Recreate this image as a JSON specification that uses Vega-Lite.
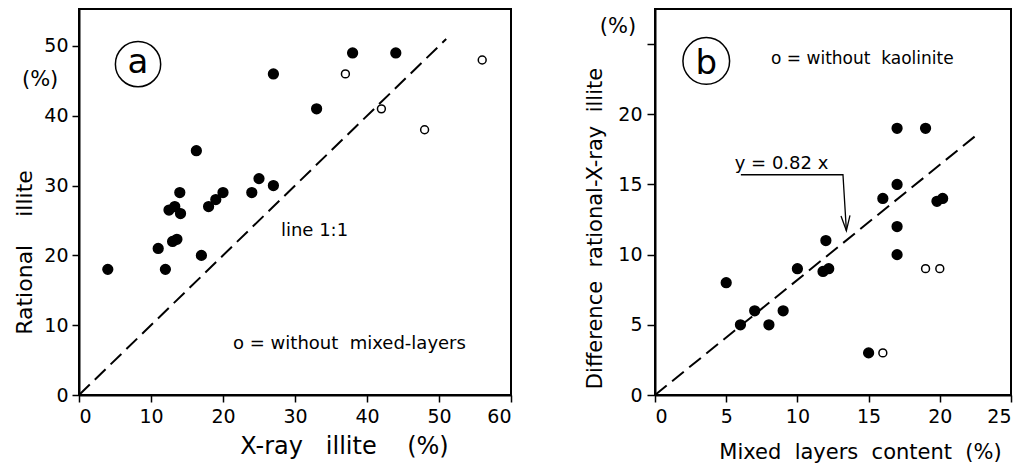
{
  "$schema": "https://vega.github.io/schema/vega-lite/v6.json",
  "padding": {"left": 12, "top": 8, "right": 5, "bottom": 5},
  "autosize": {"type": "pad"},
  "bounds": "flush",
  "spacing": 144,
  "background": "white",
  "config": {
    "font": "DejaVu Sans",
    "view": {"stroke": "black", "strokeWidth": 2},
    "axis": {
      "grid": false,
      "domainColor": "black",
      "domainWidth": 2,
      "tickColor": "black",
      "tickWidth": 1.5,
      "tickSize": 7,
      "labelFont": "DejaVu Sans",
      "labelFontSize": 19,
      "labelColor": "black",
      "titleFont": "DejaVu Sans",
      "titleFontWeight": "normal",
      "titleColor": "black"
    }
  },
  "datasets": {
    "ptsA": [
      {"x": 4, "y": 18, "type": "filled"},
      {"x": 11, "y": 21, "type": "filled"},
      {"x": 12, "y": 18, "type": "filled"},
      {"x": 12.5, "y": 26.5, "type": "filled"},
      {"x": 13, "y": 22, "type": "filled"},
      {"x": 13.3, "y": 27, "type": "filled"},
      {"x": 13.6, "y": 22.3, "type": "filled"},
      {"x": 14, "y": 29, "type": "filled"},
      {"x": 14.1, "y": 26, "type": "filled"},
      {"x": 16.3, "y": 35, "type": "filled"},
      {"x": 17, "y": 20, "type": "filled"},
      {"x": 18, "y": 27, "type": "filled"},
      {"x": 19, "y": 28, "type": "filled"},
      {"x": 20, "y": 29, "type": "filled"},
      {"x": 24, "y": 29, "type": "filled"},
      {"x": 25, "y": 31, "type": "filled"},
      {"x": 27, "y": 30, "type": "filled"},
      {"x": 27, "y": 46, "type": "filled"},
      {"x": 33, "y": 41, "type": "filled"},
      {"x": 38, "y": 49, "type": "filled"},
      {"x": 44, "y": 49, "type": "filled"},
      {"x": 37, "y": 46, "type": "open"},
      {"x": 42, "y": 41, "type": "open"},
      {"x": 48, "y": 38, "type": "open"},
      {"x": 56, "y": 48, "type": "open"}
    ],
    "ptsB": [
      {"x": 5, "y": 8, "type": "filled"},
      {"x": 6, "y": 5, "type": "filled"},
      {"x": 7, "y": 6, "type": "filled"},
      {"x": 8, "y": 5, "type": "filled"},
      {"x": 9, "y": 6, "type": "filled"},
      {"x": 10, "y": 9, "type": "filled"},
      {"x": 11.8, "y": 8.8, "type": "filled"},
      {"x": 12, "y": 11, "type": "filled"},
      {"x": 12.2, "y": 9, "type": "filled"},
      {"x": 15, "y": 3, "type": "filled"},
      {"x": 16, "y": 14, "type": "filled"},
      {"x": 17, "y": 19, "type": "filled"},
      {"x": 17, "y": 15, "type": "filled"},
      {"x": 17, "y": 12, "type": "filled"},
      {"x": 17, "y": 10, "type": "filled"},
      {"x": 19, "y": 19, "type": "filled"},
      {"x": 19.8, "y": 13.8, "type": "filled"},
      {"x": 20.2, "y": 14, "type": "filled"},
      {"x": 16, "y": 3, "type": "open"},
      {"x": 19, "y": 9, "type": "open"},
      {"x": 20, "y": 9, "type": "open"}
    ]
  },
  "hconcat": [
    {
      "width": 432,
      "height": 386,
      "encoding": {
        "x": {"field": "x", "type": "quantitative",
          "scale": {"domain": [0, 60], "nice": false, "zero": false},
          "axis": {"values": [0, 10, 20, 30, 40, 50, 60], "labelPadding": 5,
            "title": "X-ray\u00a0\u00a0\u00a0illite\u00a0\u00a0\u00a0\u00a0(%)",
            "titleFontSize": 24, "titleX": 265, "titleY": 58, "titleAlign": "center", "titleBaseline": "alphabetic", "titleAngle": 0}},
        "y": {"field": "y", "type": "quantitative",
          "scale": {"domain": [0, 55.3], "nice": false, "zero": false},
          "axis": {"values": [0, 10, 20, 30, 40, 50], "labelPadding": 4,
            "title": "Rational\u00a0\u00a0\u00a0\u00a0illite",
            "titleFontSize": 22, "titleX": -48, "titleY": 243, "titleAlign": "center", "titleBaseline": "alphabetic", "titleAngle": 270}}
      },
      "layer": [
        {
          "data": {"values": [{"x": 0, "y": 0}, {"x": 51, "y": 51}]},
          "mark": {"type": "line", "color": "black", "strokeWidth": 2, "strokeDash": [15, 7]}
        },
        {
          "data": {"name": "ptsA"},
          "mark": {"type": "point", "shape": "circle", "filled": true, "stroke": "black", "strokeWidth": 1.5, "opacity": 1},
          "encoding": {
            "fill": {"field": "type", "type": "nominal", "scale": {"domain": ["filled", "open"], "range": ["black", "white"]}, "legend": null},
            "size": {"field": "type", "type": "nominal", "scale": {"domain": ["filled", "open"], "range": [95, 62]}, "legend": null}
          }
        },
        {
          "data": {"values": [{"x": 8.2, "y": 47.4}]},
          "mark": {"type": "point", "shape": "circle", "filled": false, "stroke": "black", "strokeWidth": 1.5, "size": 2050, "opacity": 1}
        },
        {
          "data": {"values": [{"x": 8.2, "y": 47.4, "t": "a"}]},
          "mark": {"type": "text", "fontSize": 34, "align": "center", "baseline": "alphabetic", "dy": 9, "color": "black"},
          "encoding": {"text": {"field": "t"}}
        },
        {
          "data": {"values": [
            {"x": 28.05, "y": 22.8, "t": "line 1:1"},
            {"x": 21.4, "y": 6.6, "t": "o = without\u00a0\u00a0mixed-layers"}
          ]},
          "mark": {"type": "text", "fontSize": 18, "align": "left", "baseline": "alphabetic", "color": "black"},
          "encoding": {"text": {"field": "t"}}
        },
        {
          "data": {"values": [{"x": -5.4, "y": 45.1, "t": "(%)"}]},
          "mark": {"type": "text", "fontSize": 21, "align": "center", "baseline": "middle", "color": "black"},
          "encoding": {"text": {"field": "t"}}
        }
      ]
    },
    {
      "width": 356,
      "height": 386,
      "encoding": {
        "x": {"field": "x", "type": "quantitative",
          "scale": {"domain": [0, 25], "nice": false, "zero": false},
          "axis": {"values": [0, 5, 10, 15, 20, 25], "labelPadding": 5,
            "title": "Mixed\u00a0\u00a0layers\u00a0\u00a0content\u00a0\u00a0(%)",
            "titleFontSize": 21, "titleX": 205, "titleY": 63, "titleAlign": "center", "titleBaseline": "alphabetic", "titleAngle": 0}},
        "y": {"field": "y", "type": "quantitative",
          "scale": {"domain": [0, 27.5], "nice": false, "zero": false},
          "axis": {"values": [0, 5, 10, 15, 20, 25], "labelPadding": 5, "tickSize": 8,
            "labelExpr": "datum.value == 25 ? '' : datum.label",
            "title": "Difference\u00a0\u00a0rational-X-ray\u00a0\u00a0illite",
            "titleFontSize": 21, "titleX": -54, "titleY": 219, "titleAlign": "center", "titleBaseline": "alphabetic", "titleAngle": 270}}
      },
      "layer": [
        {
          "data": {"values": [{"x": 0, "y": 0}, {"x": 22.8, "y": 18.7}]},
          "mark": {"type": "line", "color": "black", "strokeWidth": 2, "strokeDash": [15, 7]}
        },
        {
          "data": {"values": [
            {"x": 6.03, "y": 15.69, "o": 1},
            {"x": 13.2, "y": 15.69, "o": 2},
            {"x": 13.44, "y": 11.71, "o": 3}
          ]},
          "mark": {"type": "line", "color": "black", "strokeWidth": 1.3},
          "encoding": {"order": {"field": "o", "type": "quantitative"}}
        },
        {
          "data": {"values": [{"x": 13.44, "y": 11.71}]},
          "mark": {"type": "point", "shape": "M-0.3,-1L0,0L0.3,-1", "filled": false, "stroke": "black", "strokeWidth": 1.3, "size": 900, "angle": -3.4, "opacity": 1}
        },
        {
          "data": {"name": "ptsB"},
          "mark": {"type": "point", "shape": "circle", "filled": true, "stroke": "black", "strokeWidth": 1.5, "opacity": 1},
          "encoding": {
            "fill": {"field": "type", "type": "nominal", "scale": {"domain": ["filled", "open"], "range": ["black", "white"]}, "legend": null},
            "size": {"field": "type", "type": "nominal", "scale": {"domain": ["filled", "open"], "range": [95, 62]}, "legend": null}
          }
        },
        {
          "data": {"values": [{"x": 3.6, "y": 23.8}]},
          "mark": {"type": "point", "shape": "circle", "filled": false, "stroke": "black", "strokeWidth": 1.5, "size": 2180, "opacity": 1}
        },
        {
          "data": {"values": [{"x": 3.6, "y": 23.8, "t": "b"}]},
          "mark": {"type": "text", "fontSize": 34, "align": "center", "baseline": "alphabetic", "dy": 13, "color": "black"},
          "encoding": {"text": {"field": "t"}}
        },
        {
          "data": {"values": [
            {"x": 8.15, "y": 23.6, "t": "o = without\u00a0\u00a0kaolinite"}
          ]},
          "mark": {"type": "text", "fontSize": 17, "align": "left", "baseline": "alphabetic", "color": "black"},
          "encoding": {"text": {"field": "t"}}
        },
        {
          "data": {"values": [{"x": 5.6, "y": 16.1, "t": "y = 0.82 x"}]},
          "mark": {"type": "text", "fontSize": 18, "align": "left", "baseline": "alphabetic", "color": "black"},
          "encoding": {"text": {"field": "t"}}
        },
        {
          "data": {"values": [{"x": -2.6, "y": 26.2, "t": "(%)"}]},
          "mark": {"type": "text", "fontSize": 21, "align": "center", "baseline": "middle", "color": "black"},
          "encoding": {"text": {"field": "t"}}
        }
      ]
    }
  ]
}
